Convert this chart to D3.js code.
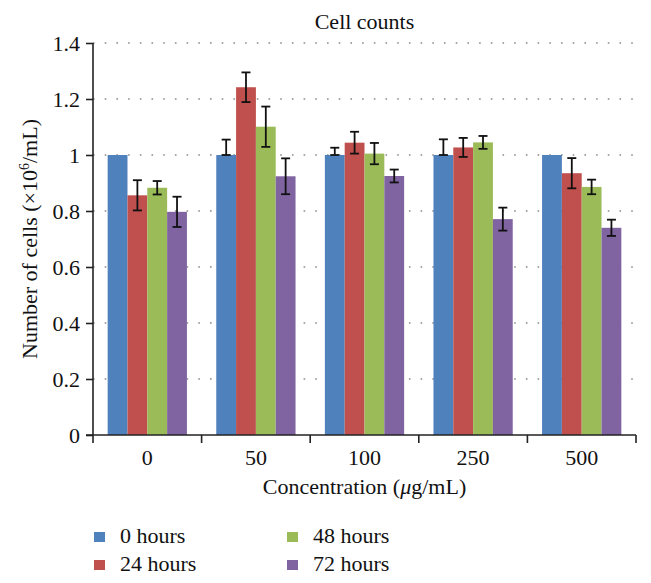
<!DOCTYPE html>
<html>
<head>
<meta charset="utf-8">
<script src="https://cdn.jsdelivr.net/npm/d3@7"></script>
</head>
<body style="margin:0">
<svg id="chart" width="651" height="583"></svg>
<script>
// data
const categories = ['0', '50', '100', '250', '500'];
const seriesNames = ['0 hours', '24 hours', '48 hours', '72 hours'];
const seriesColors = ['#4f81bd', '#c0504d', '#9bbb59', '#8064a2'];
const hours0 = [1.0, 1.0, 1.0, 1.0, 1.0];
const hours24 = [0.856, 1.242, 1.044, 1.027, 0.935];
const hours48 = [0.883, 1.101, 1.005, 1.045, 0.886];
const hours72 = [0.797, 0.924, 0.925, 0.771, 0.740];
const err0 = [0, 0.055, 0.026, 0.056, 0];
const err24 = [0.054, 0.053, 0.039, 0.034, 0.054];
const err48 = [0.024, 0.072, 0.038, 0.023, 0.026];
const err72 = [0.054, 0.064, 0.023, 0.041, 0.029];
const yTicks = [0, 0.2, 0.4, 0.6, 0.8, 1, 1.2, 1.4];
const yTickLabels = ['0', '0.2', '0.4', '0.6', '0.8', '1', '1.2', '1.4'];

const values = [hours0, hours24, hours48, hours72];
const errors = [err0, err24, err48, err72];

// serif text helper
const serif = (t) => t
  .attr('font-family', 'Liberation Serif')
  .style('font-family', 'Liberation Serif')
  .style('font-size', '22px')
  .attr('fill', '#111');

// flatten into one row per bar
const rows = [];
categories.forEach((c, i) => {
  seriesNames.forEach((s, j) => {
    rows.push({ cat: c, series: s, idx: j, value: values[j][i], err: errors[j][i] });
  });
});

const svg = d3.select('#chart');
const plotLeft = 93;
const plotRight = 636;
const plotTop = 43;
const plotBottom = 435;

const x = d3.scaleBand()
  .domain(categories)
  .range([plotLeft, plotRight]);

const xInner = d3.scaleBand()
  .domain(seriesNames)
  .range([0, x.bandwidth()])
  .paddingOuter(0.74);

const y = d3.scaleLinear()
  .domain([0, 1.4])
  .range([plotBottom, plotTop]);

const color = d3.scaleOrdinal()
  .domain(seriesNames)
  .range(seriesColors);

// dotted gridlines
svg.append('g')
  .selectAll('line')
  .data(yTicks.filter((d) => d > 0))
  .enter()
  .append('line')
  .attr('x1', plotLeft)
  .attr('x2', plotRight)
  .attr('y1', (d) => y(d))
  .attr('y2', (d) => y(d))
  .attr('stroke', '#8a8a8a')
  .attr('stroke-width', 1.6)
  .attr('stroke-dasharray', '1.6 10.1');

// bars
svg.append('g')
  .selectAll('rect')
  .data(rows)
  .enter()
  .append('rect')
  .attr('x', (d) => x(d.cat) + xInner(d.series))
  .attr('y', (d) => y(d.value))
  .attr('width', xInner.bandwidth())
  .attr('height', (d) => y(0) - y(d.value))
  .attr('fill', (d) => color(d.series));

// error bars (0 hours only plus side)
const errRows = rows.filter((d) => d.err > 0);
const errG = svg.append('g')
  .attr('stroke', '#111')
  .attr('stroke-width', 1.8);
const cx = (d) => x(d.cat) + xInner(d.series) + xInner.bandwidth() / 2;
const lo = (d) => (d.idx === 0 ? d.value : d.value - d.err);
const hi = (d) => d.value + d.err;

errG.selectAll('line.stem')
  .data(errRows)
  .enter()
  .append('line')
  .attr('class', 'stem')
  .attr('x1', cx)
  .attr('x2', cx)
  .attr('y1', (d) => y(lo(d)))
  .attr('y2', (d) => y(hi(d)));

errG.selectAll('line.cap-hi')
  .data(errRows)
  .enter()
  .append('line')
  .attr('class', 'cap-hi')
  .attr('x1', (d) => cx(d) - 4.5)
  .attr('x2', (d) => cx(d) + 4.5)
  .attr('y1', (d) => y(hi(d)))
  .attr('y2', (d) => y(hi(d)));

errG.selectAll('line.cap-lo')
  .data(errRows)
  .enter()
  .append('line')
  .attr('class', 'cap-lo')
  .attr('x1', (d) => cx(d) - 4.5)
  .attr('x2', (d) => cx(d) + 4.5)
  .attr('y1', (d) => y(lo(d)))
  .attr('y2', (d) => y(lo(d)));

// y axis
const yAxis = d3.axisLeft(y)
  .tickValues(yTicks)
  .tickFormat((d, i) => yTickLabels[i])
  .tickSize(7)
  .tickSizeOuter(0)
  .tickPadding(6);

const yg = svg.append('g')
  .attr('transform', `translate(${plotLeft},0)`)
  .call(yAxis)
  .attr('font-family', 'Liberation Serif')
  .attr('font-size', 22);
yg.select('.domain').attr('stroke', '#222').attr('stroke-width', 1.6)
  .attr('d', `M0,${plotTop}V${plotBottom + 8}`);
yg.selectAll('.tick line').attr('stroke', '#222').attr('stroke-width', 1.6);
yg.selectAll('.tick text').call(serif);

// x axis
const xAxis = d3.axisBottom(x)
  .tickSize(0)
  .tickSizeOuter(0)
  .tickPadding(0);

const xg = svg.append('g')
  .attr('transform', `translate(0,${plotBottom})`)
  .call(xAxis)
  .attr('font-family', 'Liberation Serif')
  .attr('font-size', 22);
xg.select('.domain').attr('stroke', '#222').attr('stroke-width', 1.6)
  .attr('d', `M${plotLeft - 7},0H${plotRight}`);
xg.selectAll('.tick text')
  .attr('y', 30)
  .attr('dy', 0)
  .call(serif);

// boundary ticks between categories
xg.selectAll('line.bound')
  .data(categories.slice(1).concat(['end']))
  .enter()
  .append('line')
  .attr('class', 'bound')
  .attr('x1', (d) => (d === 'end' ? x.range()[1] : x(d)))
  .attr('x2', (d) => (d === 'end' ? x.range()[1] : x(d)))
  .attr('y1', 0)
  .attr('y2', 8)
  .attr('stroke', '#222')
  .attr('stroke-width', 1.6);

// title
svg.append('text')
  .attr('x', (plotLeft + plotRight) / 2)
  .attr('y', 29)
  .attr('text-anchor', 'middle')
  .call(serif)
  .text('Cell counts');

// x title
const xt = svg.append('text')
  .attr('x', (plotLeft + plotRight) / 2)
  .attr('y', 494)
  .attr('text-anchor', 'middle')
  .call(serif);
xt.append('tspan').text('Concentration (');
xt.append('tspan').style('font-style', 'italic').text('μ');
xt.append('tspan').text('g/mL)');

// y title
const yt = svg.append('text')
  .attr('transform', `translate(37,${(plotTop + plotBottom) / 2}) rotate(-90)`)
  .attr('text-anchor', 'middle')
  .call(serif);
yt.append('tspan').text('Number of cells (×10');
yt.append('tspan').style('font-size', '14px').attr('dy', -8).text('6');
yt.append('tspan').attr('dy', 8).text('/mL)');

// legend
const legendPos = [[94, 532], [94, 560], [287, 532], [287, 560]];
const lg = svg.append('g')
  .selectAll('g')
  .data(seriesNames)
  .enter()
  .append('g')
  .attr('transform', (d, i) => `translate(${legendPos[i][0]},${legendPos[i][1]})`);
lg.append('rect')
  .attr('width', 11)
  .attr('height', 10)
  .attr('fill', (d) => color(d));
lg.append('text')
  .attr('x', 26)
  .attr('y', 10.5)
  .call(serif)
  .text((d) => d);
</script>
</body>
</html>
